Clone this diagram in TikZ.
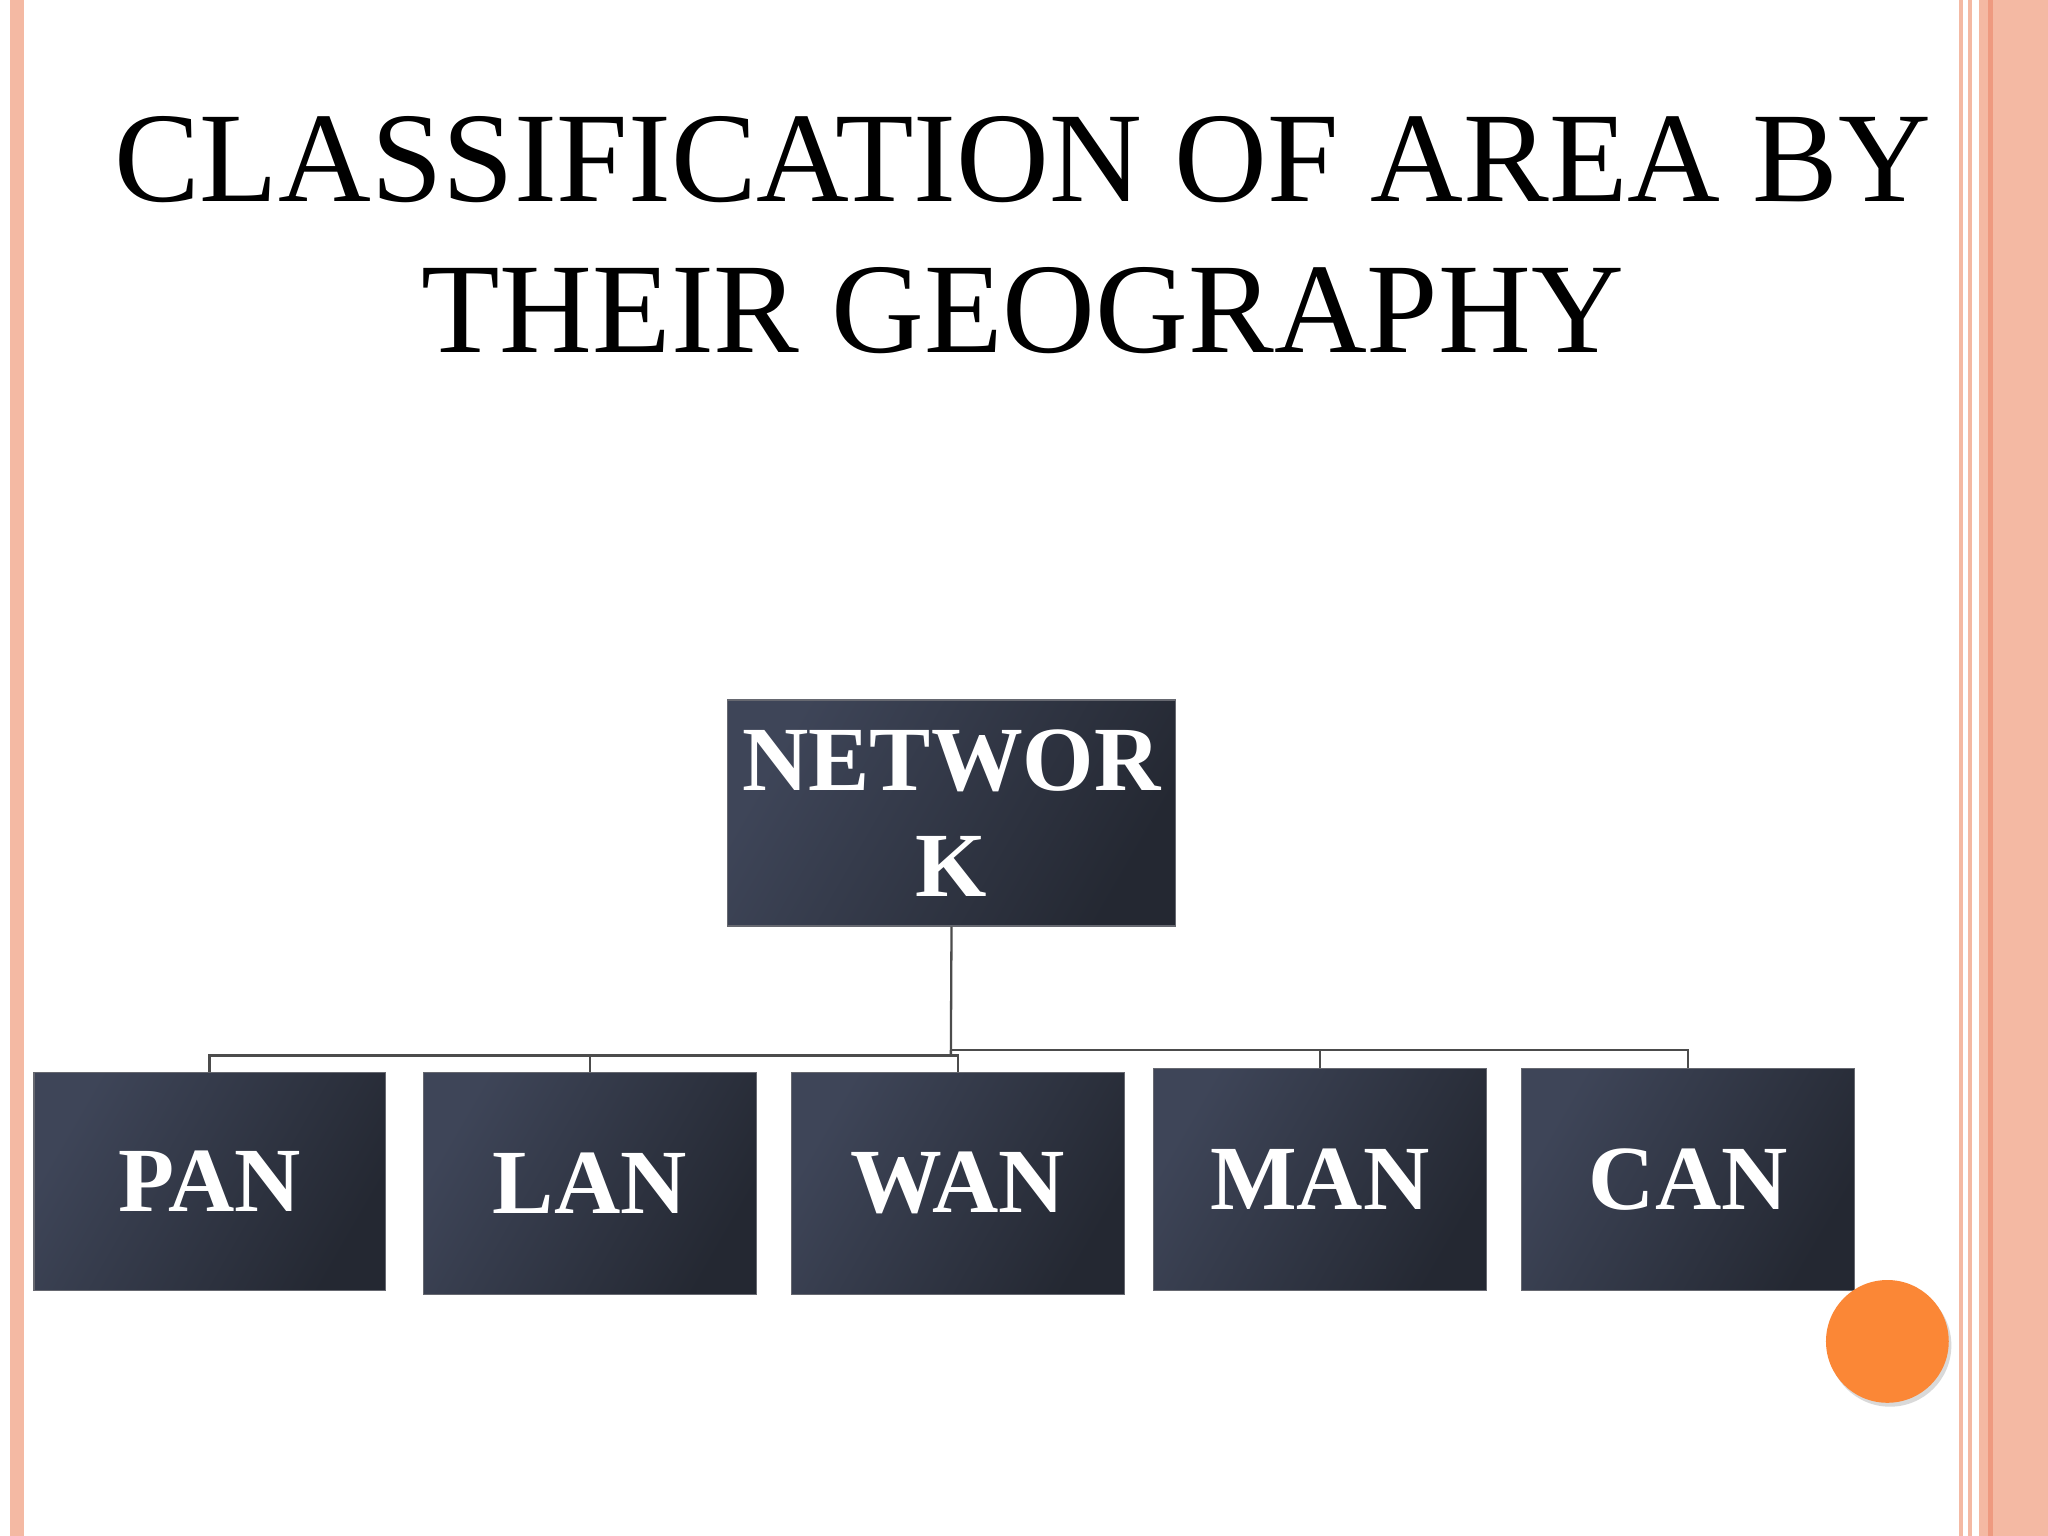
\documentclass[tikz,border=0pt]{standalone}
\usepackage{fontspec}
\setmainfont{Liberation Serif}
\definecolor{salmon}{HTML}{F4B9A3}
\definecolor{salmonD}{HTML}{EE9A80}
\definecolor{navy}{HTML}{242832}
\definecolor{navyL}{HTML}{3E4558}
\definecolor{orng}{HTML}{FB8736}
\begin{document}
\begin{tikzpicture}[x=0.02cm,y=-0.02cm,
  boxs/.style={draw=navy!70!white,line width=0.6pt,left color=navyL,right color=navy,shading angle=60,
    text=white,font=\fontsize{40}{46}\selectfont\bfseries,align=center,inner sep=0pt},
  conn/.style={draw=black!70,line width=1pt}]
\useasboundingbox (0,0) rectangle (1568,1176);
\fill[white] (0,0) rectangle (1568,1176);
\fill[salmon] (8,0) rectangle (18,1176);
\fill[salmon] (1500,0) rectangle (1503,1176);
\fill[salmon] (1507,0) rectangle (1510,1176);
\fill[salmon] (1515,0) rectangle (1568,1176);
\fill[salmonD] (1522,0) rectangle (1526,1176);
\node[font=\fontsize{56}{66}\selectfont,align=center] (title) at (783,180) {CLASSIFICATION OF AREA BY\\THEIR GEOGRAPHY};
\node[boxs,minimum width=343*0.02cm,minimum height=173*0.02cm] (net) at (728.5,622.5) {NETWOR\\K};
\node[boxs,minimum width=269*0.02cm,minimum height=167*0.02cm] (pan) at (160.5,904.5) {PAN};
\node[boxs,minimum width=255*0.02cm,minimum height=170*0.02cm] (lan) at (451.5,906) {LAN};
\node[boxs,minimum width=255*0.02cm,minimum height=170*0.02cm] (wan) at (733.5,906) {WAN};
\node[boxs,minimum width=255*0.02cm,minimum height=170*0.02cm] (man) at (1010.5,903) {MAN};
\node[boxs,minimum width=255*0.02cm,minimum height=170*0.02cm] (can) at (1292.5,903) {CAN};
\coordinate (jl) at (728,808);
\coordinate (jr) at (728,804);
\draw[conn] (net.south) -- (jl);
\draw[conn] (jl) -| (pan.north);
\draw[conn] (jl) -| (lan.north);
\draw[conn] (jl) -| (wan.north);
\draw[conn] (jr) -| (man.north);
\draw[conn] (jr) -| (can.north);
\fill[black!15] (1447,1030) circle (47);
\fill[orng] (1445,1027) circle (47);
\end{tikzpicture}
\end{document}
